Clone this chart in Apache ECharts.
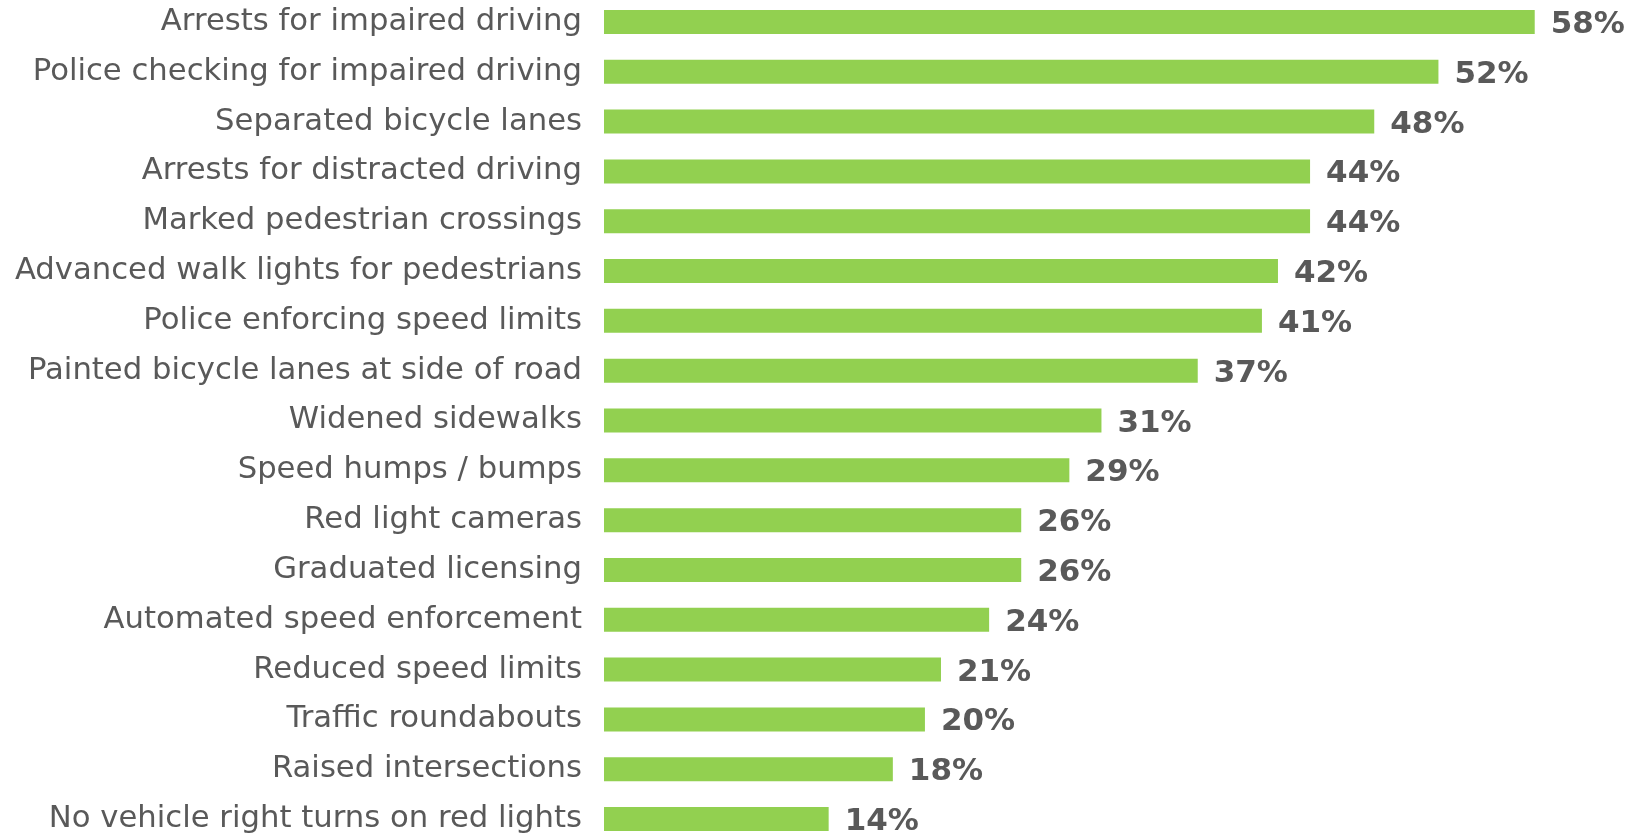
<!DOCTYPE html>
<html>
<head>
<meta charset="utf-8">
<script src="https://cdn.jsdelivr.net/npm/echarts@6/dist/echarts.min.js"></script>
<style>
  html, body { margin: 0; padding: 0; background: #fff; }
  #chart { width: 1630px; height: 836px; }
</style>
</head>
<body>
<div id="chart"></div>
<script>
// measures, top to bottom
const categories = [
  'Arrests for impaired driving',
  'Police checking for impaired driving',
  'Separated bicycle lanes',
  'Arrests for distracted driving',
  'Marked pedestrian crossings',
  'Advanced walk lights for pedestrians',
  'Police enforcing speed limits',
  'Painted bicycle lanes at side of road',
  'Widened sidewalks',
  'Speed humps / bumps',
  'Red light cameras',
  'Graduated licensing',
  'Automated speed enforcement',
  'Reduced speed limits',
  'Traffic roundabouts',
  'Raised intersections',
  'No vehicle right turns on red lights'
];
const values = [58, 52, 48, 44, 44, 42, 41, 37, 31, 29, 26, 26, 24, 21, 20, 18, 14];

const chart = echarts.init(document.getElementById('chart'), null, { renderer: 'canvas' });
chart.setOption({
  animation: false,
  grid: {
    left: 604, width: 1027, top: -3, height: 847,
    containLabel: false,
    outerBoundsMode: 'none'
  },
  xAxis: {
    type: 'value', min: 0, max: 64,
    show: false
  },
  yAxis: {
    type: 'category',
    inverse: true,
    data: categories,
    axisLine: { show: false },
    axisTick: { show: false },
    axisLabel: {
      margin: 22,
      color: '#595959',
      fontFamily: 'DejaVu Sans',
      fontSize: 30.7
    }
  },
  series: [{
    type: 'bar',
    data: values,
    barWidth: 24,
    itemStyle: { color: '#92D050' },
    label: {
      show: true,
      position: 'right',
      distance: 16,
      formatter: '{c}%',
      color: '#595959',
      fontFamily: 'DejaVu Sans',
      fontWeight: 'bold',
      fontSize: 31,
      offset: [0, 3]
    }
  }]
});
</script>
</body>
</html>
